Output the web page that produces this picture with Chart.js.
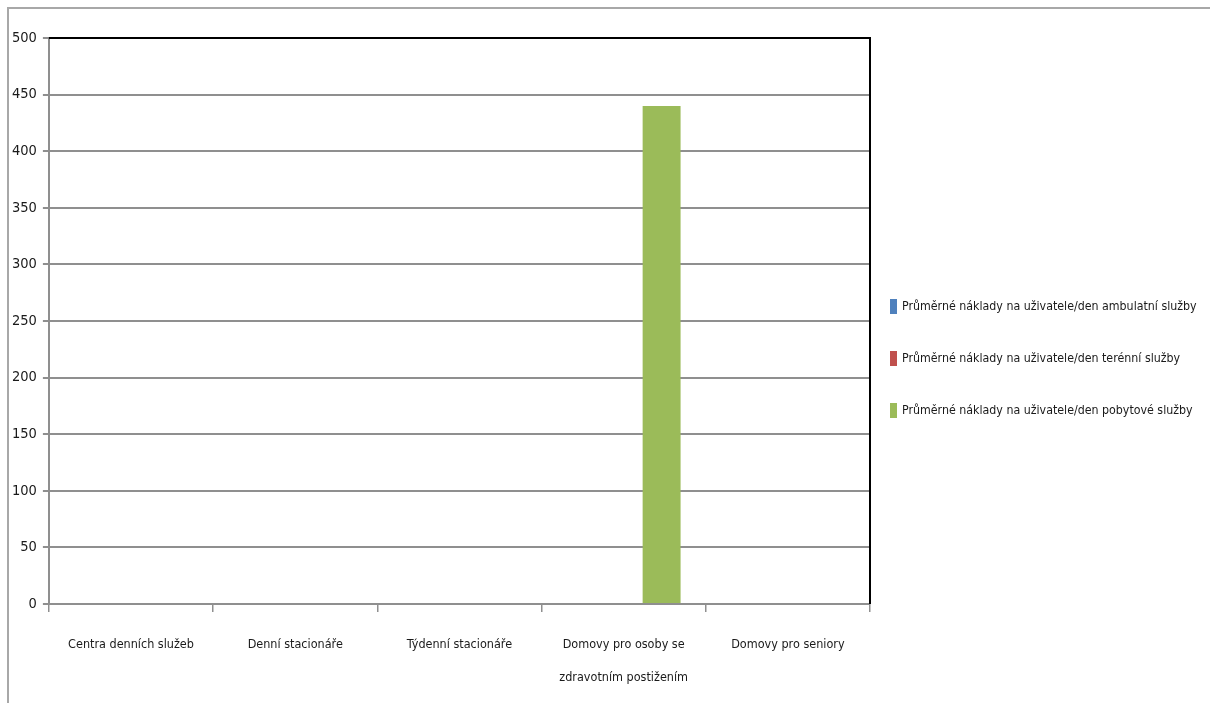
<!DOCTYPE html>
<html lang="cs">
<head>
<meta charset="utf-8">
<script src="https://cdn.jsdelivr.net/npm/chart.js@4/dist/chart.umd.min.js"></script>
<style>
    html, body { margin: 0; padding: 0; background: #fff; }
    body { width: 1210px; height: 703px; overflow: hidden; position: relative; }
    #ramecek {
        position: absolute; left: 7px; top: 7px; width: 1203px; height: 696px;
        border-top: 2px solid #a8a8a8; border-left: 2px solid #a8a8a8;
    }
    #graf-box { position: absolute; left: -3px; top: 0; width: 1204px; height: 701px; }
    #legenda {
        position: absolute; left: 881px; top: 290px; margin: 0; padding: 0; list-style: none;
        font-family: 'DejaVu Sans Condensed', sans-serif; font-size: 12.3px; color: #1a1a1a;
    }
    #legenda li { height: 52px; display: flex; align-items: flex-start; white-space: nowrap; }
    #legenda li span.box { display: inline-block; width: 7px; height: 15px; margin-right: 5px; }
    #legenda li span.txt { line-height: 15px; }
</style>
</head>
<body>
<div id="ramecek">
    <div id="graf-box"><canvas id="grafNaklady"></canvas></div>
    <ul id="legenda"></ul>
</div>
<script>
// Kategorie a hodnoty (Kč na uživatele/den)
const kategorie = [
    'Centra denních služeb',
    'Denní stacionáře',
    'Týdenní stacionáře',
    ['Domovy pro osoby se', 'zdravotním postižením'],
    'Domovy pro seniory'
];
const nakladyAmbulantni = [null, null, null, null, null];
const nakladyTerenni = [null, null, null, null, null];
const nakladyPobytove = [null, null, null, 440, null];
const popisky = [
    'Průměrné náklady na uživatele/den ambulatní  služby',
    'Průměrné náklady na uživatele/den terénní služby',
    'Průměrné náklady na uživatele/den pobytové služby'
];
const barvy = ['#4f81bd', '#c0504d', '#9bbb59'];

const pismo = "'DejaVu Sans Condensed', sans-serif";
const sedaMrizka = '#8f8f8f';

// cerny ramecek nahore a vpravo od plochy grafu
const ramecekPlochy = {
    id: 'ramecekPlochy',
    afterDatasetsDraw(chart) {
        const { ctx, chartArea: a } = chart;
        ctx.save();
        ctx.strokeStyle = '#000';
        ctx.lineWidth = 2;
        ctx.beginPath();
        ctx.moveTo(a.left, a.top);
        ctx.lineTo(a.right, a.top);
        ctx.lineTo(a.right, a.bottom);
        ctx.stroke();
        ctx.restore();
    }
};

const graf = new Chart('grafNaklady', {
    type: 'bar',
    data: {
        labels: kategorie,
        datasets: [
            { label: popisky[0], data: nakladyAmbulantni, backgroundColor: barvy[0] },
            { label: popisky[1], data: nakladyTerenni, backgroundColor: barvy[1] },
            { label: popisky[2], data: nakladyPobytove, backgroundColor: barvy[2] }
        ]
    },
    options: {
        responsive: true,
        maintainAspectRatio: false,
        animation: false,
        categoryPercentage: 0.693,
        barPercentage: 1,
        layout: { padding: { left: 0, top: 29, right: 340, bottom: 0 } },
        plugins: {
            tooltip: { enabled: false },
            legend: { display: false }
        },
        scales: {
            x: {
                grid: {
                    offset: true,
                    drawOnChartArea: false,
                    drawTicks: true,
                    tickLength: 8,
                    color: sedaMrizka,
                    lineWidth: 1.5
                },
                border: { color: sedaMrizka, width: 2 },
                ticks: {
                    color: '#1a1a1a',
                    padding: 16,
                    maxRotation: 0,
                    font: { family: pismo, size: 12.5, lineHeight: 2.64 }
                }
            },
            y: {
                min: 0,
                max: 500,
                ticks: {
                    stepSize: 50,
                    color: '#1a1a1a',
                    padding: 6,
                    font: { family: pismo, size: 14.5 }
                },
                grid: {
                    color: sedaMrizka,
                    lineWidth: 2,
                    tickLength: 6
                },
                border: { color: sedaMrizka, width: 2 }
            }
        }
    },
    plugins: [ramecekPlochy]
});

// legenda vpravo
document.getElementById('legenda').innerHTML = graf.data.datasets.map((ds, i) =>
    `<li><span class="box" style="background:${barvy[i]}"></span><span class="txt">${ds.label}</span></li>`
).join('');
</script>
</body>
</html>
